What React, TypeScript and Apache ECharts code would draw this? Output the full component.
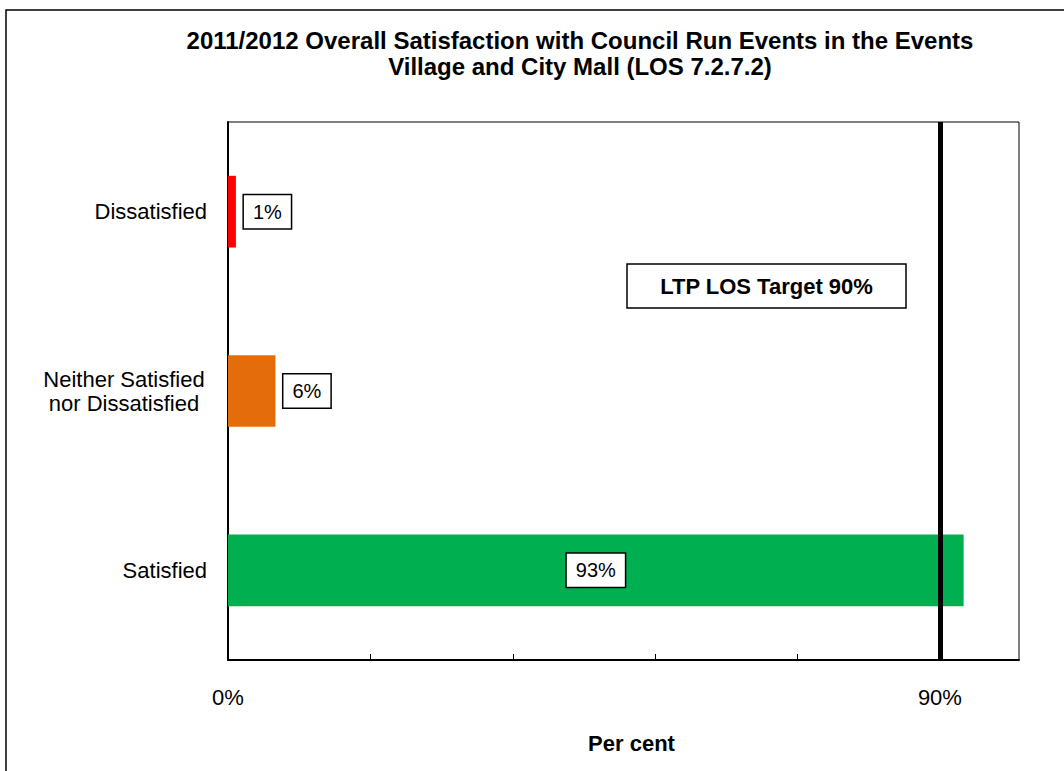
import React, { useEffect, useRef } from 'react';
import * as echarts from 'echarts';

const titleText = '2011/2012 Overall Satisfaction with Council Run Events in the Events\nVillage and City Mall (LOS 7.2.7.2)';
const categories = ['Dissatisfied', 'Neither Satisfied\nnor Dissatisfied', 'Satisfied'];
const values = [1, 6, 93];
const barColors = ['#FF0000', '#E46C0A', '#00B050'];
const labelPositions = ['right', 'right', 'inside'];
const targetValue = 90;
const targetLabel = 'LTP LOS Target 90%';
const labeledTicks = [0, 90];
const axisMin = 0;
const axisMax = 100;
const tickInterval = 18;
const xAxisName = 'Per cent';

const FONT = '"Liberation Sans", Arial, sans-serif';

export default function App() {
  const ref = useRef<HTMLDivElement>(null);
  useEffect(() => {
    document.body.style.margin = '0';
    const chart = echarts.init(ref.current!, undefined, { renderer: 'svg' });
    const labelStyle = {
      show: true,
      formatter: '{c}%',
      color: '#000',
      fontFamily: FONT,
      fontSize: 20,
      lineHeight: 22,
      backgroundColor: '#fff',
      borderColor: '#000',
      borderWidth: 1.5,
      padding: [6, 9, 5, 9],
    };
    chart.setOption({
      animation: false,
      backgroundColor: '#fff',
      grid: {
        left: 228,
        right: 45,
        top: 122,
        bottom: 111,
        show: true,
        borderColor: '#000',
        borderWidth: 1,
        containLabel: false,
      },
      xAxis: {
        type: 'value',
        min: axisMin,
        max: axisMax,
        interval: tickInterval,
        splitLine: { show: false },
        axisLine: { show: true, lineStyle: { color: '#000', width: 2 } },
        axisTick: { show: true, inside: true, length: 6, lineStyle: { color: '#000', width: 1 } },
        axisLabel: {
          margin: 26,
          color: '#000',
          fontFamily: FONT,
          fontSize: 22,
          showMaxLabel: false,
          formatter: (v: number) => (labeledTicks.includes(v) ? v + '%' : ''),
        },
        name: xAxisName,
        nameLocation: 'middle',
        nameGap: 72,
        nameTextStyle: {
          color: '#000',
          fontFamily: FONT,
          fontWeight: 'bold',
          fontSize: 22,
          padding: [0, 0, 0, 16],
        },
      },
      yAxis: {
        type: 'category',
        inverse: true,
        data: categories,
        axisLine: { show: true, lineStyle: { color: '#000', width: 2 } },
        axisTick: { show: false },
        splitLine: { show: false },
        axisLabel: {
          margin: 21,
          color: '#000',
          fontFamily: FONT,
          fontSize: 22,
          lineHeight: 24,
          formatter: (v: string) =>
            v.includes('\n') ? v.split('\n').map((s) => `{c|${s}}`).join('\n') : v,
          rich: {
            c: {
              width: 166,
              align: 'center',
              color: '#000',
              fontFamily: FONT,
              fontSize: 22,
              lineHeight: 24,
            },
          },
        },
      },
      series: [
        {
          type: 'bar',
          barWidth: '40%',
          data: values.map((v, i) => ({
            value: v,
            itemStyle: { color: barColors[i] },
            label: { ...labelStyle, position: labelPositions[i], distance: 8 },
          })),
          markLine: {
            silent: true,
            symbol: ['none', 'none'],
            label: { show: false },
            lineStyle: { color: '#000', width: 5, type: 'solid' },
            data: [{ xAxis: targetValue }],
          },
        },
      ],
      graphic: [
        {
          type: 'rect',
          shape: { x: 6, y: 10, width: 1100, height: 800 },
          style: { fill: 'none', stroke: '#000', lineWidth: 1.5 },
          silent: true,
        },
        {
          type: 'text',
          x: 580,
          y: 53,
          style: {
            text: titleText,
            fill: '#000',
            font: `bold 24px ${FONT}`,
            lineHeight: 26,
            textAlign: 'center',
            textVerticalAlign: 'middle',
          },
        },
        {
          type: 'rect',
          shape: { x: 627, y: 264, width: 279, height: 44 },
          style: { fill: '#fff', stroke: '#000', lineWidth: 1.5 },
          z: 10,
        },
        {
          type: 'text',
          x: 766.5,
          y: 286,
          z: 11,
          style: {
            text: targetLabel,
            fill: '#000',
            font: `bold 22px ${FONT}`,
            textAlign: 'center',
            textVerticalAlign: 'middle',
          },
        },
      ],
    });
    return () => chart.dispose();
  }, []);
  return (
    <div
      ref={ref}
      style={{ position: 'absolute', left: 0, top: 0, width: 1064, height: 771 }}
    />
  );
}
